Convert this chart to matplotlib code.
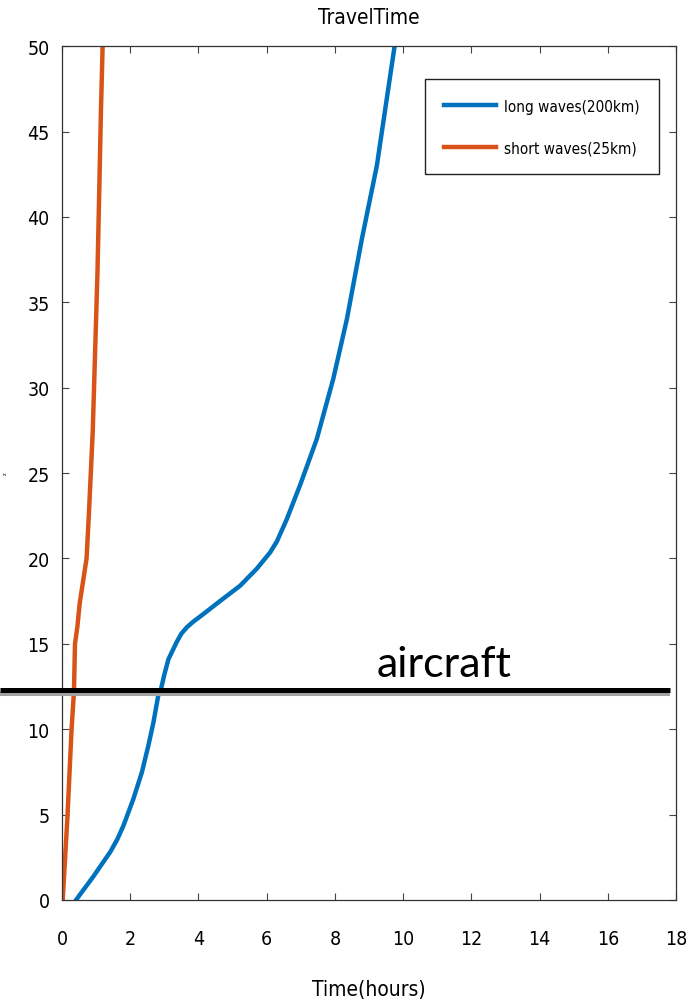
import matplotlib
matplotlib.use("Agg")
import matplotlib.pyplot as plt
import numpy as np

# travel time curves, depth z vs time in hours
long_t = [0.41, 0.92, 1.15, 1.41, 1.62, 1.80, 2.09, 2.34, 2.53, 2.68, 2.82, 2.89,
          3.00, 3.12, 3.36, 3.50, 3.66, 3.85, 4.05, 4.63, 5.22, 5.71, 6.10, 6.30,
          6.59, 6.98, 7.47, 7.95, 8.35, 8.79, 9.23, 9.75]
long_z = [0.0, 1.38, 2.05, 2.8, 3.55, 4.35, 5.91, 7.47, 9.03, 10.4, 11.96, 12.25,
          13.2, 14.1, 15.1, 15.6, 15.97, 16.3, 16.6, 17.5, 18.4, 19.4, 20.35, 21.0,
          22.3, 24.3, 27.0, 30.5, 34.0, 38.7, 43.0, 50.0]
short_t = [0.02, 0.16, 0.28, 0.35, 0.38, 0.45, 0.52, 0.72, 0.79, 0.90, 0.97,
           1.04, 1.09, 1.14, 1.19]
short_z = [0.0, 4.9, 10.0, 12.2, 15.0, 16.0, 17.4, 20.0, 22.7, 27.4, 32.1,
           36.8, 41.4, 46.1, 50.0]
aircraft_z = 12.3

xticks = np.arange(0, 19, 2)
yticks = np.arange(0, 51, 5)

plt.rcParams['font.family'] = ['DejaVu Sans']
plt.rcParams['font.stretch'] = 'condensed'

fig = plt.figure(figsize=(7, 10.03), dpi=100)
ax = fig.add_axes([0.0886, 0.1017, 0.8771, 0.8513])

ax.plot(long_t, long_z, color='#0072BD', lw=3.2, solid_joinstyle='round',
        label='long waves(200km)')
ax.plot(short_t, short_z, color='#D95319', lw=3.2, solid_joinstyle='round',
        label='short waves(25km)')

# aircraft level with its shadow, running past the left edge
ax.plot([-1.82, 17.83], [aircraft_z - 0.26] * 2, color='#a0a0a0', lw=2.9,
        clip_on=False, solid_capstyle='butt', zorder=5)
ax.plot([-1.82, 17.83], [aircraft_z] * 2, color='black', lw=3.6,
        clip_on=False, solid_capstyle='butt', zorder=6)
ax.text(11.2, 13.1, 'aircraft', fontsize=31, family='Lato', stretch='normal',
        ha='center', va='baseline', zorder=7)

ax.set_xlim(0, 18)
ax.set_ylim(0, 50)
ax.set_xticks(xticks)
ax.set_yticks(yticks)
ax.tick_params(direction='in', length=5, width=0.8, color='#444444',
               top=True, right=True, labelsize=14)
ax.tick_params(axis='x', pad=21)
ax.tick_params(axis='y', pad=9)
for s in ax.spines.values():
    s.set_color('#333333')
    s.set_linewidth(0.9)

ax.set_title('TravelTime', fontsize=15, pad=17)
ax.set_xlabel('Time(hours)', fontsize=15, labelpad=22)
ax.set_ylabel('z', fontsize=4, labelpad=14)

leg = ax.legend(loc='upper right', bbox_to_anchor=(0.972, 0.961), borderaxespad=0,
                fontsize=11, handlelength=3.4, handletextpad=0.55, borderpad=1.25,
                labelspacing=1.75, fancybox=False, framealpha=1)
leg.get_frame().set_edgecolor('#222222')
leg.get_frame().set_linewidth(1.0)

fig.savefig('out.png', dpi=100)
